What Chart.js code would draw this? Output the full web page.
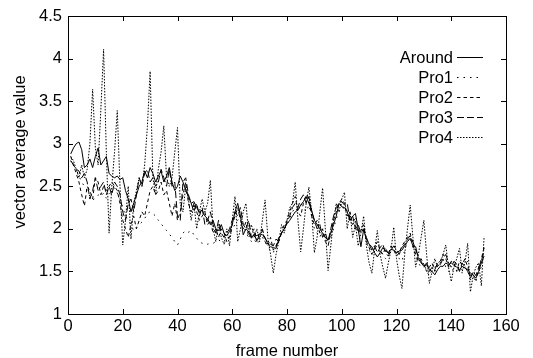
<!DOCTYPE html>
<html>
<head>
<meta charset="utf-8">
<script src="https://cdn.jsdelivr.net/npm/chart.js@4"></script>
<style>
  body { margin: 0; background: #fff; }
  canvas { display: block; }
</style>
</head>
<body>
<canvas id="myChart" width="533" height="358"></canvas>
<script>
// frame numbers 1..152
const frames = Array.from({ length: 152 }, (_, i) => i + 1);

const seriesNames = ["Around", "Pro1", "Pro2", "Pro3", "Pro4"];
const xTicks = [0, 20, 40, 60, 80, 100, 120, 140, 160];
const yTicks = [1, 1.5, 2, 2.5, 3, 3.5, 4, 4.5];

const around = [
  2.88, 2.95, 3.0, 3.02, 2.93, 2.72, 2.75, 2.82, 2.72, 2.85,
  2.95, 2.75, 2.8, 2.85, 2.65, 2.62, 2.6, 2.62, 2.58, 2.6,
  2.45, 2.35, 2.2, 2.3, 2.4, 2.5, 2.55, 2.68, 2.6, 2.72,
  2.65, 2.55, 2.62, 2.68, 2.55, 2.62, 2.72, 2.55, 2.45, 2.5,
  2.62, 2.55, 2.45, 2.38, 2.3, 2.32, 2.25, 2.2, 2.22, 2.15,
  2.12, 2.05, 2.1, 2.0, 1.98, 2.05, 1.95, 1.92, 1.97, 2.05,
  2.2, 2.3, 2.15, 1.93, 2.0, 1.97, 1.89, 1.93, 1.92, 1.94,
  1.93, 1.9, 1.82, 1.79, 1.78, 1.77, 1.88, 1.95, 2.0, 2.06,
  2.1, 2.15, 2.2, 2.22, 2.28, 2.32, 2.38, 2.3, 2.22, 2.1,
  2.05, 2.0, 1.95, 1.9, 1.87, 1.95, 2.05, 2.15, 2.3, 2.26,
  2.25, 2.2, 2.1, 2.15, 2.18, 2.0, 1.79, 1.99, 1.88, 1.82,
  1.79, 1.72, 1.67, 1.72, 1.78, 1.74, 1.72, 1.76, 1.75, 1.72,
  1.74, 1.75, 1.8, 1.85, 1.89, 1.8, 1.79, 1.65, 1.6, 1.56,
  1.6, 1.52, 1.5, 1.46, 1.52, 1.56, 1.56, 1.6, 1.58, 1.6,
  1.57, 1.55, 1.52, 1.56, 1.54, 1.52, 1.48, 1.46, 1.42, 1.5,
  1.6, 1.68
];
const pro1 = [
  2.8, 2.75, 2.7, 2.62, 2.55, 2.5, 2.45, 2.38, 2.34, 2.36,
  2.4, 2.38, 2.42, 2.36, 2.4, 2.45, 2.48, 2.42, 2.35, 2.25,
  2.15, 2.1, 2.05, 1.98, 2.02, 2.05, 2.08, 2.12, 2.18, 2.2,
  2.18, 2.15, 2.1, 2.06, 2.02, 1.98, 1.94, 1.9, 1.85, 1.81,
  1.88, 1.95, 1.98, 1.96, 1.98, 1.93, 1.89, 1.85, 1.83, 1.84,
  1.82, 1.83, 1.83, 1.85, 1.87, 1.85, 1.83, 1.86, 1.92, 2.0,
  2.05, 2.1, 2.15, 2.05, 1.95, 1.9, 1.85, 1.88, 1.82, 1.86,
  1.9, 1.85, 1.78, 1.75, 1.72, 1.8, 1.85, 1.95, 2.0, 2.05,
  2.12, 2.2, 2.25, 2.2, 2.3, 2.25, 2.2, 2.28, 2.15, 2.0,
  1.95, 1.9, 2.0, 1.88, 1.82, 1.9, 2.0, 2.12, 2.2, 2.3,
  2.2, 2.25, 2.1, 2.05, 2.15, 1.98, 1.95, 2.05, 1.85, 1.75,
  1.7, 1.75, 1.82, 1.78, 1.68, 1.65, 1.7, 1.78, 1.82, 1.7,
  1.65, 1.62, 1.75, 1.85, 1.9, 1.78, 1.68, 1.6, 1.55, 1.6,
  1.5, 1.45, 1.52, 1.55, 1.6, 1.62, 1.65, 1.55, 1.5, 1.48,
  1.55, 1.6, 1.52, 1.48, 1.55, 1.62, 1.4, 1.45, 1.38, 1.5,
  1.55, 1.8
];
const pro2 = [
  2.85, 2.75, 2.65, 2.55, 2.4, 2.27, 2.5, 2.45, 2.35, 2.6,
  2.55, 2.4, 2.5, 2.45, 2.5, 2.55, 2.5, 2.45, 2.3, 2.1,
  2.0, 1.9, 2.05, 2.15, 2.0, 2.1, 2.2, 2.15, 2.3, 2.45,
  2.5, 2.4, 2.45, 2.55, 2.4, 2.45, 2.3, 2.15, 2.3, 2.1,
  2.2, 2.4, 2.55, 2.3, 2.2, 2.3, 2.2, 2.1, 2.15, 2.2,
  2.05, 2.1, 1.95, 2.0, 1.9, 2.0, 1.95, 1.85, 1.9, 2.05,
  2.15, 2.25, 2.1, 2.0, 2.08, 1.9, 1.95, 2.0, 1.85, 1.9,
  1.98, 1.85, 1.8, 1.9, 1.75, 1.8, 1.9, 1.95, 2.05, 2.1,
  2.2, 2.3, 2.38, 2.2, 2.15, 2.3, 2.4, 2.35, 2.15, 2.05,
  2.1, 1.95, 2.0, 1.85, 1.8, 1.95, 2.1, 2.2, 2.3, 2.35,
  2.3, 2.15, 2.2, 2.05, 2.1, 1.95, 2.0, 2.05, 1.85, 1.78,
  1.7, 1.78, 1.85, 1.75, 1.7, 1.78, 1.7, 1.8, 1.75, 1.68,
  1.72, 1.8, 1.85, 1.9, 1.95, 1.82, 1.7, 1.62, 1.65, 1.58,
  1.5, 1.55, 1.6, 1.5, 1.58, 1.62, 1.7, 1.65, 1.55, 1.62,
  1.6, 1.5, 1.62, 1.58, 1.65, 1.55, 1.45, 1.42, 1.4, 1.52,
  1.65, 1.78
];
const pro3 = [
  2.8, 2.75, 2.7, 2.68, 2.6, 2.65, 2.55, 2.35, 2.45, 2.6,
  2.45, 2.5, 2.55, 2.4, 2.5, 2.4, 2.55, 2.5, 2.4, 2.2,
  2.1, 2.3, 2.35, 2.2, 2.4, 2.6, 2.5, 2.65, 2.7, 2.55,
  2.6, 2.5, 2.55, 2.7, 2.6, 2.5, 2.7, 2.5, 2.55, 2.14,
  2.1, 2.55, 2.6, 2.4, 2.3, 2.2, 2.3, 2.15, 2.25, 2.05,
  2.1, 2.2, 2.05, 1.95, 2.1, 1.95, 1.9, 1.95, 2.0, 2.1,
  2.2, 2.15, 2.25, 2.05, 2.0, 2.1, 1.9, 1.95, 1.85, 1.95,
  2.0, 1.88, 1.85, 1.82, 1.8, 1.88, 1.85, 1.95, 2.0, 2.08,
  2.15, 2.25, 2.3, 2.25, 2.35, 2.4, 2.3, 2.38, 2.2, 2.1,
  2.0, 2.05, 1.9, 1.95, 1.85, 2.0, 2.15, 2.25, 2.3, 2.32,
  2.28, 2.3, 2.1, 2.15, 2.0, 2.05, 1.95, 2.0, 1.9, 1.82,
  1.75, 1.8, 1.72, 1.78, 1.82, 1.72, 1.68, 1.75, 1.8, 1.75,
  1.7, 1.78, 1.82, 1.88, 1.92, 1.85, 1.75, 1.68, 1.62, 1.55,
  1.58, 1.5, 1.55, 1.52, 1.6, 1.58, 1.65, 1.7, 1.6, 1.55,
  1.62, 1.58, 1.5, 1.6, 1.55, 1.5, 1.42, 1.5, 1.45, 1.55,
  1.62, 1.75
];
const pro4 = [
  2.85, 2.8, 2.7, 2.6, 2.75, 2.6, 2.7, 3.0, 3.64, 2.95,
  2.75, 3.4, 4.11, 2.9, 1.95, 2.5, 2.9, 3.39, 2.5, 1.81,
  2.1, 2.5, 1.88, 2.3, 2.45, 2.6, 2.5, 2.75, 3.2, 3.85,
  2.6, 2.4, 2.7, 2.9, 3.21, 2.6, 2.5, 2.6, 2.9, 3.19,
  2.3, 2.2, 2.5, 2.35, 2.1, 2.3, 2.0, 2.2, 2.35, 2.2,
  2.3, 2.57, 2.0, 1.85, 2.05, 1.9, 1.82, 2.0, 1.8, 2.1,
  2.38, 1.85, 2.0, 2.2, 2.3, 1.95, 2.05, 1.9, 2.0, 1.85,
  2.1, 2.34, 1.9, 1.7, 1.48, 1.7, 1.85, 2.05, 1.95, 2.1,
  2.25, 2.3, 2.55, 2.1, 1.73, 2.0, 2.3, 2.49, 2.2, 1.72,
  1.9, 2.2, 2.48, 2.0, 1.51, 1.8, 2.1, 2.3, 2.2, 2.35,
  2.43, 2.0, 2.2, 1.9, 2.05, 1.8, 1.95, 2.15, 1.8, 1.6,
  1.48, 1.75, 1.98, 1.7, 1.55, 1.42, 1.6, 1.75, 2.02, 1.65,
  1.45, 1.3, 1.7, 2.0, 2.28, 1.9, 1.55, 1.7, 1.9, 2.1,
  1.7, 1.36, 1.5, 1.65, 1.55, 1.6, 1.7, 1.81, 1.55, 1.38,
  1.55, 1.65, 1.77, 1.5, 1.6, 1.83, 1.26, 1.45, 1.55, 1.6,
  1.33, 1.91
];

const allSeries = [around, pro1, pro2, pro3, pro4];
const dashes = [[], [1.5, 5], [3.5, 3], [7, 3], [1.5, 1.5]];

const FONT = "16.5px 'Liberation Sans', Arial, sans-serif";

// gnuplot style frame, inner ticks, axis titles and legend
const gnuplotBits = {
  id: "gnuplotBits",
  afterDraw(chart) {
    const ctx = chart.ctx;
    const a = chart.chartArea;
    const xs = chart.scales.x;
    const ys = chart.scales.y;
    ctx.save();
    ctx.strokeStyle = "#000";
    ctx.lineWidth = 1;
    ctx.setLineDash([]);
    ctx.strokeRect(a.left + 0.5, a.top + 0.5, a.right - a.left, a.bottom - a.top);
    const tl = 5;
    ctx.beginPath();
    xTicks.forEach(v => {
      const px = Math.round(xs.getPixelForValue(v)) + 0.5;
      ctx.moveTo(px, a.bottom); ctx.lineTo(px, a.bottom - tl);
      ctx.moveTo(px, a.top); ctx.lineTo(px, a.top + tl);
    });
    yTicks.forEach(v => {
      const py = Math.round(ys.getPixelForValue(v)) + 0.5;
      ctx.moveTo(a.left, py); ctx.lineTo(a.left + tl, py);
      ctx.moveTo(a.right, py); ctx.lineTo(a.right - tl, py);
    });
    ctx.stroke();

    ctx.fillStyle = "#000";
    ctx.font = FONT;
    ctx.textAlign = "center";
    ctx.textBaseline = "alphabetic";
    ctx.fillText("frame number", (a.left + a.right) / 2, 356);
    ctx.save();
    ctx.translate(25, 152);
    ctx.rotate(-Math.PI / 2);
    ctx.fillText("vector average value", 0, 0);
    ctx.restore();

    // legend: text right aligned, line sample on the right
    chart.data.datasets.forEach((ds, i) => {
      const y = 57 + i * 20;
      ctx.textAlign = "right";
      ctx.textBaseline = "middle";
      ctx.fillText(ds.label, 453, y + 1);
      ctx.beginPath();
      ctx.setLineDash(ds.borderDash);
      ctx.moveTo(457, y + 0.5);
      ctx.lineTo(483, y + 0.5);
      ctx.stroke();
    });
    ctx.restore();
  }
};

const datasets = seriesNames.map((name, i) => ({
  label: name,
  data: allSeries[i].map((v, j) => ({ x: frames[j], y: v })),
  borderColor: "#000",
  borderWidth: 1,
  borderDash: dashes[i],
  pointRadius: 0,
  tension: 0,
  fill: false
}));

new Chart(document.getElementById("myChart").getContext("2d"), {
  type: "line",
  data: { datasets: datasets },
  options: {
    responsive: false,
    animation: false,
    layout: { padding: { left: 0, top: 16, right: 27, bottom: 0 } },
    plugins: { legend: { display: false }, tooltip: { enabled: false } },
    scales: {
      x: {
        type: "linear",
        min: 0,
        max: 160,
        afterFit(scale) { scale.height = 44; },
        afterBuildTicks(scale) { scale.ticks = xTicks.map(v => ({ value: v })); },
        grid: { display: false, drawTicks: false },
        border: { display: false },
        ticks: { color: "#000", padding: 3, callback: v => String(v), font: { family: "'Liberation Sans', Arial, sans-serif", size: 16.5 } }
      },
      y: {
        min: 1,
        max: 4.5,
        afterFit(scale) { scale.width = 68; },
        afterBuildTicks(scale) { scale.ticks = yTicks.map(v => ({ value: v })); },
        grid: { display: false, drawTicks: false },
        border: { display: false },
        ticks: { color: "#000", padding: 6, callback: v => String(v), font: { family: "'Liberation Sans', Arial, sans-serif", size: 16.5 } }
      }
    }
  },
  plugins: [gnuplotBits]
});
</script>
</body>
</html>
